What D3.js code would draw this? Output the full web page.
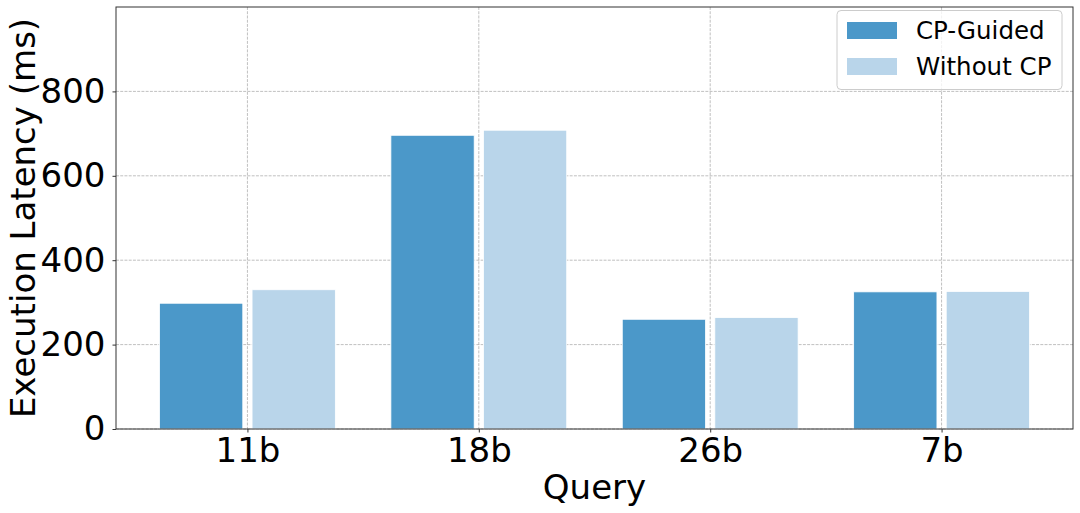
<!DOCTYPE html>
<html><head><meta charset="utf-8">
<script src="https://cdn.jsdelivr.net/npm/d3@7"></script>
<style>body{margin:0;background:#fff}svg{display:block}text{font-family:"DejaVu Sans",sans-serif}</style>
</head><body><svg id="c" width="1080" height="513"></svg>
<script>
const categories = ["11b","18b","26b","7b"];
const seriesNames = ["CP-Guided","Without CP"];
const cpGuided = [298, 696, 260, 325];
const withoutCP = [330, 708, 264, 326];
const yTicks = [0,200,400,600,800];
const colors = ["#4b98c9","#b9d5ea"];

const svg = d3.select("#c");
const L=116, R=1073, T=7, B=429;
const x = d3.scaleLinear().domain([-0.568, 3.568]).range([L,R]);
const y = d3.scaleLinear().domain([0,1000]).range([B,T]);
const barW = 0.36, off = 0.2;

const g = svg.append("g");
g.selectAll(".gy").data(yTicks).enter().append("line")
 .attr("x1",L).attr("x2",R).attr("y1",d=>y(d)).attr("y2",d=>y(d))
 .attr("stroke","#b0b0b0").attr("stroke-width",0.8).attr("stroke-dasharray","2.96,1.28");
g.selectAll(".gx").data(categories).enter().append("line")
 .attr("x1",(d,i)=>x(i)).attr("x2",(d,i)=>x(i)).attr("y1",T).attr("y2",B)
 .attr("stroke","#b0b0b0").attr("stroke-width",0.8).attr("stroke-dasharray","2.96,1.28");

const series=[cpGuided, withoutCP];
series.forEach((vals,si)=>{
  svg.append("g").selectAll("rect").data(vals).enter().append("rect")
   .attr("x",(d,i)=>x(i+(si===0?-off:off)-barW/2))
   .attr("width",x(barW)-x(0))
   .attr("y",d=>y(d)).attr("height",d=>y(0)-y(d))
   .attr("fill",colors[si]).attr("stroke","#fff").attr("stroke-width",0.8);
});

svg.append("rect").attr("x",L).attr("y",T).attr("width",R-L).attr("height",B-T)
 .attr("fill","none").attr("stroke","#333").attr("stroke-width",1);

const ya = svg.append("g").attr("transform",`translate(${L},0)`)
 .call(d3.axisLeft(y).tickValues(yTicks).tickSize(3.5).tickPadding(7).tickFormat(d3.format("d")));
ya.select(".domain").remove();
ya.selectAll("text").attr("font-size",34).attr("fill","#000").attr("font-family","DejaVu Sans");
ya.selectAll("line").attr("stroke","#333");

const xa = svg.append("g").attr("transform",`translate(0,${B})`)
 .call(d3.axisBottom(x).tickValues([0,1,2,3]).tickSize(3.5).tickPadding(5).tickFormat(i=>categories[i]));
xa.select(".domain").remove();
xa.selectAll("text").attr("font-size",34).attr("fill","#000").attr("font-family","DejaVu Sans");
xa.selectAll("line").attr("stroke","#333");

svg.append("text").attr("x",(L+R)/2).attr("y",499).attr("text-anchor","middle")
 .attr("font-size",34).text("Query");
svg.append("text").attr("transform",`translate(35,${(T+B)/2}) rotate(-90)`).attr("text-anchor","middle")
 .attr("font-size",34).text("Execution Latency (ms)");

const lg = svg.append("g");
lg.append("rect").attr("x",837).attr("y",10.5).attr("width",225).attr("height",79).attr("rx",4)
 .attr("fill","#fff").attr("fill-opacity",0.8).attr("stroke","#ccc").attr("stroke-width",1);
seriesNames.forEach((n,i)=>{
  lg.append("rect").attr("x",847).attr("y",22+i*36).attr("width",50).attr("height",17).attr("fill",colors[i]);
  lg.append("text").attr("x",916).attr("y",39+i*36).attr("font-size",24.5).text(n);
});
</script></body></html>
